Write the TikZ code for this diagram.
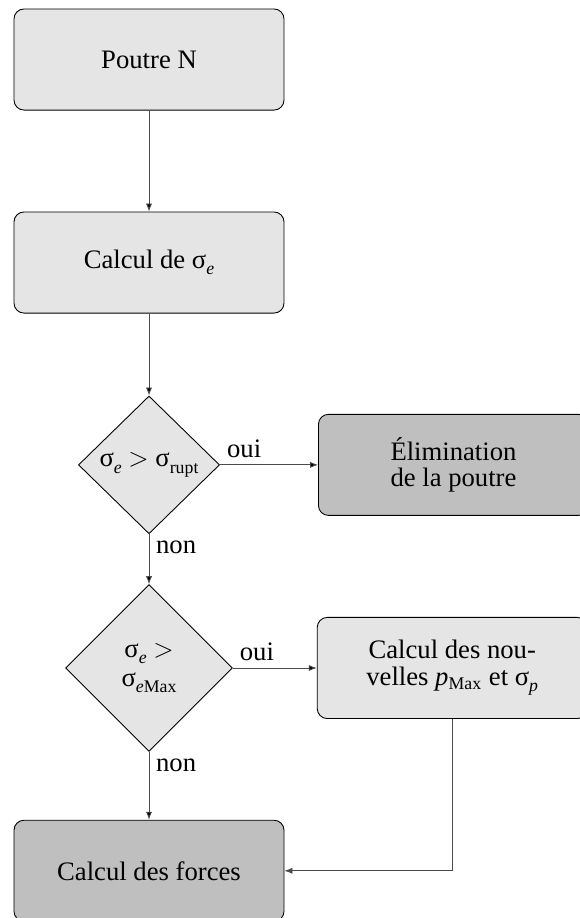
\documentclass[tikz,border=0pt]{standalone}
\usepackage{fontspec}
\setmainfont{Liberation Serif}
\usetikzlibrary{shapes.geometric,arrows.meta,positioning}
\newcommand{\sgm}[1]{σ\raisebox{-.5ex}{\footnotesize #1}}

\begin{document}
\begin{tikzpicture}[font=\fontsize{12}{12}\selectfont,
  box/.style={draw, rounded corners=4.5pt, fill=gray!20, minimum width=121.5pt, minimum height=45.5pt, align=center, inner sep=2pt},
  endbox/.style={box, fill=gray!50},
  test/.style={draw, diamond, aspect=1, fill=gray!20, inner sep=0pt, align=center},
  lbl/.style={inner sep=3pt}]
\useasboundingbox (-67.05pt,26.78pt) rectangle (193.5pt,-386.3pt);
\node[box] (poutre) at (0,0) {Poutre N};
\node[box, below=45.45pt of poutre] (calc) {Calcul de \sgm{\textit{e}}};
\node[test, minimum width=63.5pt, minimum height=62pt, below=36.9pt of calc] (rupt) {\sgm{\textit{e}} $>$ \sgm{rupt}};
\node[endbox, right=44.1pt of rupt] (elim) {Élimination\\de la poutre};
\node[test, minimum width=75pt, minimum height=75pt, below=22.5pt of rupt] (emax) {\sgm{\textit{e}} $>$\\[1pt]\sgm{\textit{e}Max}};
\node[box, right=37.8pt of emax] (maj) {Calcul des nou-\\velles \textit{p}\textsubscript{Max} et \sgm{\textit{p}}};
\node[endbox, below=30.6pt of emax] (forces) {Calcul des forces};
\path[draw=black!70, -{Latex[length=3.6pt,width=2.8pt]}]
(poutre) edge (calc)
(calc) edge (rupt)
(rupt) edge node[lbl, anchor=south west, pos=0] {oui} (elim)
       edge node[lbl, anchor=north west, pos=0] {non} (emax)
(emax) edge node[lbl, anchor=south west, pos=0] {oui} (maj)
       edge node[lbl, anchor=north west, pos=0] {non} (forces)
;
\draw[black!70, -{Latex[length=3.6pt,width=2.8pt]}] (maj.south) |- (forces.east);
\end{tikzpicture}
\end{document}
